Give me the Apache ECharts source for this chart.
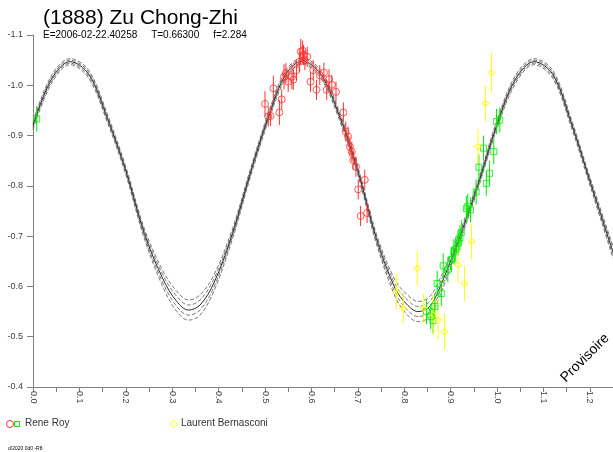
<!DOCTYPE html>
<html>
<head>
<meta charset="utf-8">
<script src="https://cdn.jsdelivr.net/npm/echarts@6/dist/echarts.min.js"></script>
<style>html,body{margin:0;padding:0;background:#fff}#c{width:613px;height:452px}</style>
</head>
<body>
<div id="c"></div>
<script>
// ---- data ----
const xTicks = [0,0.1,0.2,0.3,0.4,0.5,0.6,0.7,0.8,0.9,1.0,1.1,1.2];
const yTicks = [-1.1,-1.0,-0.9,-0.8,-0.7,-0.6,-0.5,-0.4];

const curvePhase = [0,0.04,0.08,0.12,0.16,0.20,0.24,0.28,0.31,0.335,0.36,0.39,0.43,0.47,0.51,0.545,0.58,0.62,0.66,0.70,0.74,0.78,0.805,0.83,0.855,0.88,0.92,0.96,1.00,1.04,1.08,1.12,1.16,1.20,1.25];
const curve1 = [-0.928,-1.020,-1.053,-1.030,-0.943,-0.838,-0.715,-0.631,-0.590,-0.573,-0.583,-0.623,-0.715,-0.838,-0.952,-1.030,-1.054,-1.030,-0.948,-0.838,-0.705,-0.613,-0.585,-0.570,-0.580,-0.621,-0.709,-0.813,-0.930,-1.020,-1.053,-1.030,-0.933,-0.818,-0.680];
const curve2 = [-0.924,-1.016,-1.050,-1.026,-0.939,-0.834,-0.710,-0.623,-0.580,-0.563,-0.573,-0.615,-0.710,-0.834,-0.948,-1.026,-1.051,-1.026,-0.944,-0.834,-0.700,-0.605,-0.575,-0.560,-0.570,-0.613,-0.704,-0.809,-0.926,-1.016,-1.050,-1.026,-0.929,-0.814,-0.674];
const curve3 = [-0.920,-1.012,-1.047,-1.022,-0.935,-0.830,-0.705,-0.615,-0.570,-0.553,-0.563,-0.607,-0.705,-0.830,-0.944,-1.022,-1.048,-1.022,-0.940,-0.830,-0.695,-0.597,-0.565,-0.550,-0.560,-0.605,-0.699,-0.805,-0.922,-1.012,-1.047,-1.022,-0.925,-0.810,-0.668];
const curve4 = [-0.916,-1.008,-1.044,-1.018,-0.931,-0.826,-0.700,-0.607,-0.560,-0.543,-0.553,-0.599,-0.700,-0.826,-0.940,-1.018,-1.045,-1.018,-0.936,-0.826,-0.690,-0.589,-0.555,-0.540,-0.550,-0.597,-0.694,-0.801,-0.918,-1.008,-1.044,-1.018,-0.921,-0.806,-0.662];
const curve5 = [-0.912,-1.004,-1.041,-1.014,-0.927,-0.822,-0.695,-0.599,-0.550,-0.533,-0.543,-0.591,-0.695,-0.822,-0.936,-1.014,-1.042,-1.014,-0.932,-0.822,-0.685,-0.581,-0.545,-0.530,-0.540,-0.589,-0.689,-0.797,-0.914,-1.004,-1.041,-1.014,-0.917,-0.802,-0.656];

const redPhase = [0.500,0.507,0.512,0.518,0.531,0.536,0.541,0.545,0.550,0.558,0.561,0.568,0.574,0.577,0.581,0.583,0.586,0.591,0.598,0.604,0.611,0.618,0.627,0.633,0.638,0.644,0.653,0.669,0.674,0.679,0.683,0.687,0.690,0.696,0.701,0.706,0.715,0.720];
const redMag = [-0.963,-0.938,-0.939,-0.994,-0.946,-0.972,-1.017,-1.024,-1.007,-1.017,-1.011,-1.030,-1.047,-1.067,-1.069,-1.060,-1.050,-1.057,-1.007,-1.030,-0.991,-1.020,-1.025,-0.991,-1.012,-1.001,-0.987,-0.946,-0.908,-0.898,-0.878,-0.868,-0.851,-0.838,-0.793,-0.740,-0.812,-0.746];
const redErr = [0.025,0.02,0.02,0.025,0.025,0.02,0.025,0.02,0.02,0.025,0.02,0.02,0.02,0.025,0.02,0.02,0.02,0.02,0.02,0.02,0.02,0.02,0.02,0.02,0.02,0.02,0.02,0.02,0.02,0.02,0.02,0.02,0.02,0.02,0.02,0.02,0.02,0.02];

const greenPhase = [0.008,0.848,0.857,0.862,0.866,0.871,0.880,0.884,0.894,0.902,0.907,0.911,0.916,0.920,0.923,0.934,0.937,0.943,0.955,0.961,0.971,0.977,0.984,0.993,0.999,1.006];
const greenMag = [-0.933,-0.550,-0.540,-0.532,-0.560,-0.606,-0.586,-0.641,-0.633,-0.654,-0.669,-0.674,-0.686,-0.696,-0.707,-0.755,-0.759,-0.752,-0.788,-0.837,-0.875,-0.805,-0.825,-0.868,-0.928,-0.931];
const greenErr = [0.025,0.025,0.025,0.025,0.025,0.025,0.025,0.025,0.025,0.025,0.025,0.025,0.025,0.025,0.025,0.025,0.025,0.025,0.025,0.025,0.025,0.025,0.025,0.025,0.025,0.025];

const yellowPhase = [0.783,0.798,0.828,0.842,0.862,0.873,0.887,0.916,0.930,0.945,0.959,0.975,0.988];
const yellowMag = [-0.590,-0.557,-0.636,-0.557,-0.543,-0.533,-0.510,-0.643,-0.606,-0.689,-0.878,-0.964,-1.025];
const yellowErr = [0.035,0.03,0.035,0.03,0.04,0.04,0.035,0.035,0.035,0.035,0.035,0.035,0.04];

// ---- chart ----
const FONT = 'Liberation Sans, Arial, sans-serif';
const chart = echarts.init(document.getElementById('c'), null, {renderer:'canvas'});

function pts(xs, ys){ return xs.map((x,i)=>[x, ys[i]]); }
function errPts(xs, ys, es){ return xs.map((x,i)=>[x, ys[i], es[i]]); }

function curveSeries(data, dashed){
  return {
    type:'line', data: pts(curvePhase, data), smooth: 0.35, showSymbol:false, silent:true,
    lineStyle:{color: dashed ? '#555' : '#111', width: dashed ? 0.8 : 0.9, type: dashed ? [4,2] : 'solid'},
    z: 2
  };
}
function errSeries(data, color){
  return {
    type:'custom', data: data, silent:true, z:3,
    renderItem: function(params, api){
      const x = api.value(0), y = api.value(1), e = api.value(2);
      const p = api.coord([x, y - e]);
      const q = api.coord([x, y + e]);
      return {type:'line', shape:{x1:p[0], y1:p[1], x2:q[0], y2:q[1]}, style:{stroke: color, lineWidth: 1}};
    }
  };
}
function symSeries(data, color, symbol, size){
  return {
    type:'scatter', data: data, symbol: symbol, symbolSize: size, silent:true, z:4,
    itemStyle:{color:'rgba(0,0,0,0)', borderColor: color, borderWidth: 1}
  };
}

const RED = '#ff3030', GREEN = '#00ee00', YELLOW = '#ffff00';

chart.setOption({
  animation:false,
  backgroundColor:'#fff',
  grid:{left:33, top:35, right:0, bottom:65, containLabel:false},
  xAxis:{
    type:'value', min:0, max:1.25, interval:0.1,
    axisLine:{show:true, lineStyle:{color:'#808080', width:1}},
    axisTick:{show:true, length:5, lineStyle:{color:'#808080'}},
    minorTick:{show:true, splitNumber:2, length:5, lineStyle:{color:'#808080'}},
    splitLine:{show:false},
    axisLabel:{rotate:-90, showMaxLabel:false, fontSize:9, color:'#404040', fontFamily:FONT, margin:4,
      formatter: v => (xTicks.some(t => Math.abs(t - v) < 1e-6) ? v.toFixed(1) : '')}
  },
  yAxis:{
    type:'value', min:-1.1, max:-0.4, interval:0.1, inverse:true,
    axisLine:{show:true, lineStyle:{color:'#808080', width:1}},
    axisTick:{show:true, length:6, lineStyle:{color:'#808080'}},
    splitLine:{show:false},
    axisLabel:{fontSize:9, color:'#404040', fontFamily:FONT, margin:10, padding:[0,0,4,0],
      formatter: v => (yTicks.some(t => Math.abs(t - v) < 1e-6) ? v.toFixed(1) : '')}
  },
  series:[
    curveSeries(curve1, true),
    curveSeries(curve2, true),
    curveSeries(curve3, false),
    curveSeries(curve4, true),
    curveSeries(curve5, true),
    errSeries(errPts(redPhase, redMag, redErr), RED),
    errSeries(errPts(greenPhase, greenMag, greenErr), GREEN),
    errSeries(errPts(yellowPhase, yellowMag, yellowErr), YELLOW),
    symSeries(pts(redPhase, redMag), RED, 'circle', 7),
    symSeries(pts(greenPhase, greenMag), GREEN, 'rect', 6),
    symSeries(pts(yellowPhase, yellowMag), YELLOW, 'diamond', [7,6])
  ],
  graphic:[
    {type:'text', left:43, top:8, style:{text:'(1888) Zu Chong-Zhi', font:'21px ' + FONT, fill:'#000'}},
    {type:'text', left:43, top:30, style:{text:'E=2006-02-22.40258     T=0.66300     f=2.284', font:'10px ' + FONT, fill:'#000'}},
    {type:'text', x:585, y:358, rotation:Math.PI/4, style:{text:'Provisoire', font:'14px ' + FONT, fill:'#000', align:'center', verticalAlign:'middle'}},
    {type:'circle', shape:{cx:10, cy:424, r:3.5}, style:{fill:'none', stroke:RED, lineWidth:1}},
    {type:'rect', shape:{x:14.5, y:421.5, width:5, height:5}, style:{fill:'none', stroke:GREEN, lineWidth:1}},
    {type:'text', left:25, top:418, style:{text:'Rene Roy', font:'10px ' + FONT, fill:'#333'}},
    {type:'polygon', shape:{points:[[174,420.5],[177.5,424],[174,427.5],[170.5,424]]}, style:{fill:'none', stroke:YELLOW, lineWidth:1}},
    {type:'text', left:181, top:418, style:{text:'Laurent Bernasconi', font:'10px ' + FONT, fill:'#333'}},
    {type:'text', left:8, top:446, style:{text:'d/2020 0d0 -R8', font:'5px ' + FONT, fill:'#000'}}
  ]
});
</script>
</body>
</html>
